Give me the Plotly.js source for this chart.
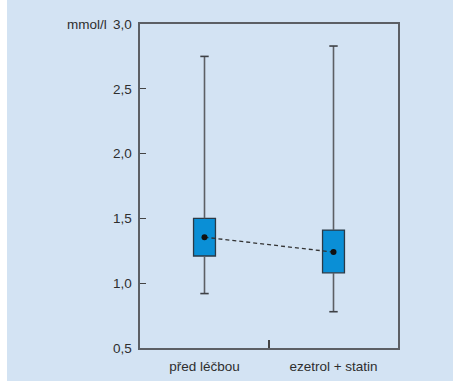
<!DOCTYPE html>
<html><head><meta charset="utf-8">
<script src="https://cdn.plot.ly/plotly-3.0.1.min.js"></script>
<style>
html,body{margin:0;padding:0;background:#fff;}
#wrap{position:absolute;left:7px;top:0;width:446px;height:381px;background:#d3e3f3;}
#chart{width:446px;height:381px;}
</style></head>
<body><div id="wrap"><div id="chart"></div></div>
<script>
var categories = ["před léčbou", "ezetrol + statin"];
var q1Values = [1.21, 1.08];
var q3Values = [1.50, 1.41];
var medianValues = [1.355, 1.24];
var lowerWhisker = [0.92, 0.78];
var upperWhisker = [2.75, 2.83];
var yTickVals = [0.5, 1.0, 1.5, 2.0, 2.5, 3.0];
var unitLabel = "mmol/l";

var traces = [];
traces.push({
  type: 'bar', x: categories,
  y: q3Values.map(function(v, i){ return v - q1Values[i]; }),
  base: q1Values, width: 0.17,
  marker: {color: '#0a8fd6', line: {color: '#2b3a46', width: 1.3}},
  hoverinfo: 'skip', showlegend: false
});
categories.forEach(function(c, i){
  traces.push({type:'scatter', mode:'lines', x:[c,c], y:[q3Values[i], upperWhisker[i]],
    line:{color:'#5c5f64', width:1.6}, showlegend:false, hoverinfo:'skip'});
  traces.push({type:'scatter', mode:'lines', x:[c,c], y:[q1Values[i], lowerWhisker[i]],
    line:{color:'#5c5f64', width:1.6}, showlegend:false, hoverinfo:'skip'});
});
traces.push({type:'scatter', mode:'markers', x:categories.concat(categories),
  y: upperWhisker.concat(lowerWhisker),
  marker:{symbol:'line-ew-open', size:6, color:'#3e4146', line:{color:'#3e4146', width:1.6}},
  showlegend:false, hoverinfo:'skip'});
traces.push({type:'scatter', mode:'lines+markers', x:categories, y:medianValues,
  line:{color:'#333333', width:1.3, dash:'4px,3px'},
  marker:{color:'#111111', size:6}, showlegend:false});

var layout = {
  width: 446, height: 381,
  margin: {l:133, r:55, t:24, b:33},
  paper_bgcolor: 'rgba(0,0,0,0)', plot_bgcolor: 'rgba(0,0,0,0)',
  separators: ', ',
  font: {family: 'Liberation Sans, Arial, sans-serif', size: 13.5, color: '#2e2e2e'},
  xaxis: {
    type: 'category', range: [-0.5, 1.5], tickson: 'boundaries',
    ticks: 'inside', ticklen: 8, tickwidth: 1.3, tickcolor: '#444',
    showline: true, linecolor: '#5c5f64', linewidth: 1.6, mirror: true,
    showgrid: false, zeroline: false, fixedrange: true,
    ticklabelstandoff: 5,
    tickfont: {size: 13.5, color: '#2e2e2e'}
  },
  yaxis: {
    range: [0.5, 3.0], tickvals: yTickVals, tickformat: '.1f',
    ticks: 'inside', ticklen: 6, tickwidth: 1.3, tickcolor: '#444',
    showline: true, linecolor: '#5c5f64', linewidth: 1.6, mirror: true,
    showgrid: false, zeroline: false, fixedrange: true,
    ticklabelstandoff: 4,
    tickfont: {size: 13.5, color: '#2e2e2e'}
  },
  annotations: [{text: unitLabel, xref:'paper', yref:'paper', x:-0.12, y:1.0,
    xanchor:'right', yanchor:'middle', showarrow:false, font:{size:13.5, color:'#2e2e2e'}}]
};
Plotly.newPlot('chart', traces, layout, {displayModeBar:false, staticPlot:true});
</script></body></html>
